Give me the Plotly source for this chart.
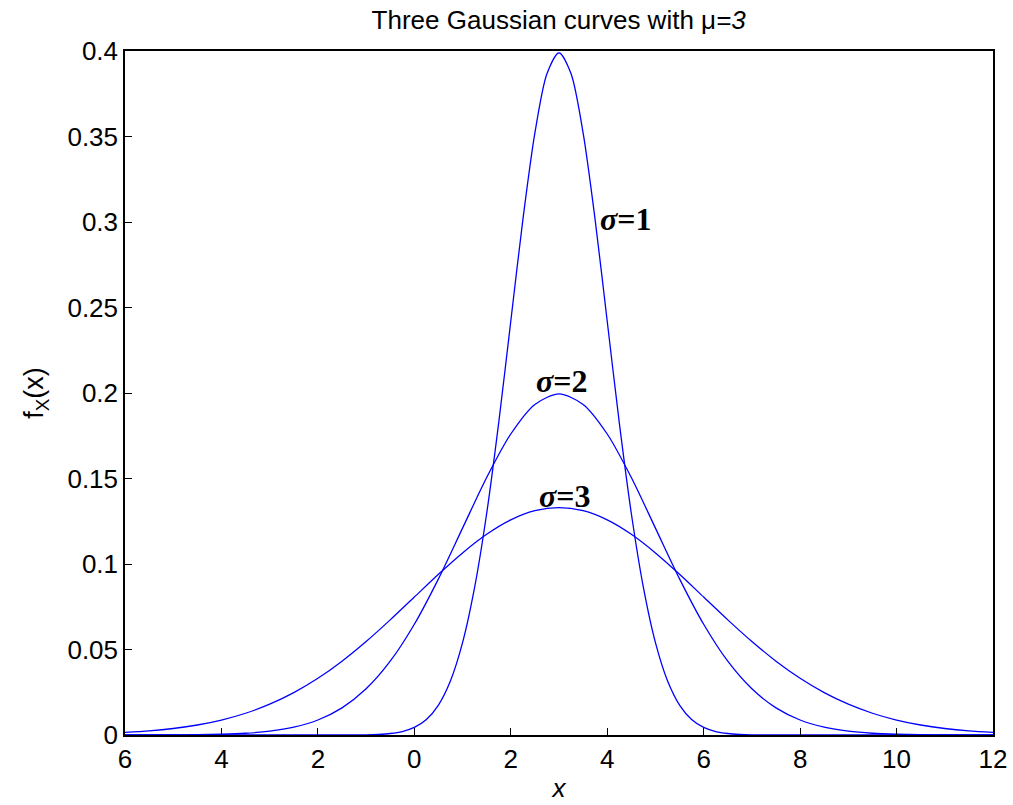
import plotly.graph_objects as go

# sigma = 1 curve (mu = 3), x step 0.25 in the core
x1 = [-6, -1, -0.75, -0.5, -0.25, 0, 0.25, 0.5, 0.75, 1, 1.25, 1.5, 1.75, 2, 2.25, 2.5, 2.75,
      3, 3.25, 3.5, 3.75, 4, 4.25, 4.5, 4.75, 5, 5.25, 5.5, 5.75, 6, 6.25, 6.5, 6.75, 7, 12]
y1 = [0.0, 0.00013, 0.00035, 0.00087, 0.00203, 0.00443, 0.00909, 0.01753, 0.03174, 0.05399,
      0.08628, 0.12952, 0.18265, 0.24197, 0.30114, 0.35207, 0.38667,
      0.39894, 0.38667, 0.35207, 0.30114, 0.24197, 0.18265, 0.12952, 0.08628, 0.05399,
      0.03174, 0.01753, 0.00909, 0.00443, 0.00203, 0.00087, 0.00035, 0.00013, 0.0]

# sigma = 2 and sigma = 3 curves, x step 0.5
x23 = [-6, -5.5, -5, -4.5, -4, -3.5, -3, -2.5, -2, -1.5, -1, -0.5, 0, 0.5, 1, 1.5, 2, 2.5,
       3, 3.5, 4, 4.5, 5, 5.5, 6, 6.5, 7, 7.5, 8, 8.5, 9, 9.5, 10, 10.5, 11, 11.5, 12]
y2 = [0.00001, 0.00002, 0.00007, 0.00018, 0.00044, 0.00101, 0.00222, 0.00455, 0.00876,
      0.01587, 0.02700, 0.04314, 0.06476, 0.09132, 0.12099, 0.15057, 0.17603, 0.19333,
      0.19947, 0.19333, 0.17603, 0.15057, 0.12099, 0.09132, 0.06476, 0.04314, 0.02700,
      0.01587, 0.00876, 0.00455, 0.00222, 0.00101, 0.00044, 0.00018, 0.00007, 0.00002, 0.00001]
y3 = [0.00148, 0.00240, 0.00380, 0.00584, 0.00874, 0.01272, 0.01800, 0.02477, 0.03316,
      0.04317, 0.05467, 0.06733, 0.08066, 0.09398, 0.10648, 0.11736, 0.12580, 0.13115,
      0.13298, 0.13115, 0.12580, 0.11736, 0.10648, 0.09398, 0.08066, 0.06733, 0.05467,
      0.04317, 0.03316, 0.02477, 0.01800, 0.01272, 0.00874, 0.00584, 0.00380, 0.00240, 0.00148]

x_tickvals = [-6, -4, -2, 0, 2, 4, 6, 8, 10, 12]
x_ticktext = ["6", "4", "2", "0", "2", "4", "6", "8", "10", "12"]
y_tickvals = [0, 0.05, 0.1, 0.15, 0.2, 0.25, 0.3, 0.35, 0.4]
y_ticktext = ["0", "0.05", "0.1", "0.15", "0.2", "0.25", "0.3", "0.35", "0.4"]

labels = ["<b><i>σ</i>=1</b>", "<b><i>σ</i>=2</b>", "<b><i>σ</i>=3</b>"]
label_x = [3.8, 3.06, 3.12]
label_y = [0.302, 0.207, 0.1396]
label_anchor = ["left", "center", "center"]

fig = go.Figure()
for xs, ys in [(x1, y1), (x23, y2), (x23, y3)]:
    fig.add_trace(go.Scatter(x=xs, y=ys, mode="lines",
                             line=dict(color="#0000ff", width=1.3, shape="spline", smoothing=0.8),
                             showlegend=False, hoverinfo="skip"))

for t, lx, ly, a in zip(labels, label_x, label_y, label_anchor):
    fig.add_annotation(x=lx, y=ly, text=t, showarrow=False, xanchor=a, yanchor="middle",
                       font=dict(family="Liberation Serif", size=32, color="black"))

axis_common = dict(showgrid=False, zeroline=False, showline=True, linecolor="black",
                   linewidth=1.5, mirror=True, ticks="inside", ticklen=7,
                   tickcolor="black", tickwidth=1,
                   tickfont=dict(family="Liberation Sans", size=26, color="black"))

fig.update_xaxes(range=[-6, 12], tickvals=x_tickvals, ticktext=x_ticktext,
                 title=dict(text="<i>x</i>", standoff=6,
                            font=dict(family="Liberation Sans", size=26, color="black")),
                 **axis_common)
fig.update_yaxes(range=[0, 0.4], tickvals=y_tickvals, ticktext=y_ticktext,
                 title=dict(text="f<sub>X</sub>(x)", standoff=16,
                            font=dict(family="Liberation Sans", size=27, color="black")),
                 **axis_common)

fig.update_layout(
    width=1013, height=805,
    margin=dict(l=125, r=20, t=51, b=70, autoexpand=False),
    paper_bgcolor="white", plot_bgcolor="white",
    title=dict(text="Three Gaussian curves with μ<i>=3</i>", x=0.5515, xanchor="center",
               y=0.975, yanchor="middle",
               font=dict(family="Liberation Sans", size=26, color="black")),
)

fig.write_html("out.html", config={"displayModeBar": False},
               post_script="document.body.style.margin='0';document.body.style.overflow='hidden';")
